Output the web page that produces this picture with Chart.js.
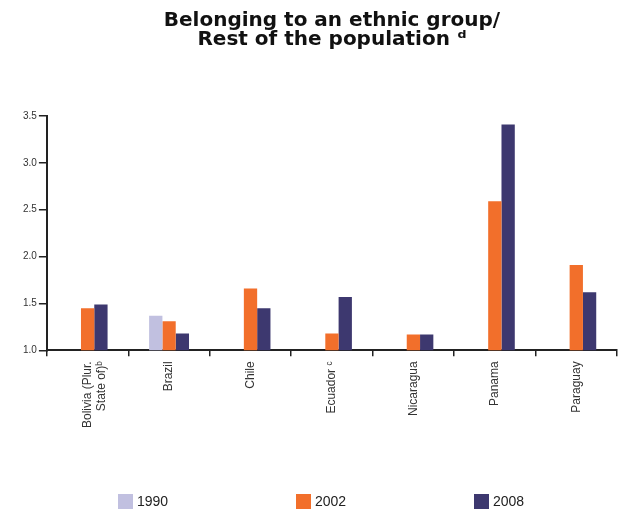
<!DOCTYPE html>
<html>
<head>
<meta charset="utf-8">
<script src="https://cdn.jsdelivr.net/npm/chart.js@4"></script>
<style>
  html, body { margin: 0; padding: 0; background: #fff; }
  #wrap { width: 632px; height: 515px; }
</style>
</head>
<body>
<div id="wrap"><canvas id="ethnicChart"></canvas></div>
<script>
const countries = [["Bolivia (Plur.", "State of)ᵇ"], "Brazil", "Chile", "Ecuador ᶜ", "Nicaragua", "Panama", "Paraguay"];
const years = ["1990", "2002", "2008"];
const values1990 = [null, 1.37, null, null, null, null, null];
const values2002 = [1.45, 1.31, 1.66, 1.18, 1.17, 2.59, 1.91];
const values2008 = [1.49, 1.18, 1.45, 1.57, 1.17, 3.41, 1.62];
const yTicks = [1.0, 1.5, 2.0, 2.5, 3.0, 3.5];

const colors = ["#c1c0e0", "#f26f2b", "#3d386f"];
const axisColor = "#222";

// legend spread across the bottom, one item per year
const bottomLegend = {
  id: "bottomLegend",
  afterDraw(chart) {
    const ctx = chart.ctx;
    const gap = 178;
    const startX = chart.width / 2 - 198;
    const y = 494;
    ctx.save();
    ctx.font = "14px 'Liberation Sans', Arial, sans-serif";
    ctx.textBaseline = "middle";
    chart.data.datasets.forEach((ds, i) => {
      const x = startX + i * gap;
      ctx.fillStyle = ds.backgroundColor;
      ctx.fillRect(x, y, 15, 15);
      ctx.fillStyle = "#222";
      ctx.fillText(ds.label, x + 19, y + 8);
    });
    ctx.restore();
  }
};

new Chart(document.getElementById("ethnicChart").getContext("2d"), {
  type: "bar",
  data: {
    labels: countries,
    datasets: [
      { label: years[0], data: values1990, backgroundColor: colors[0] },
      { label: years[1], data: values2002, backgroundColor: colors[1] },
      { label: years[2], data: values2008, backgroundColor: colors[2] }
    ]
  },
  options: {
    responsive: true,
    maintainAspectRatio: false,
    animation: false,
    datasets: { bar: { categoryPercentage: 0.49, barPercentage: 1.0 } },
    layout: { padding: { left: 21, right: 15, top: 0, bottom: 82 } },
    plugins: {
      legend: { display: false },
      tooltip: { enabled: false },
      title: {
        display: true,
        fullSize: false,
        text: ["Belonging to an ethnic group/", "Rest of the population ᵈ"],
        color: "#111",
        font: { family: "'DejaVu Sans', sans-serif", size: 20, weight: "bold", lineHeight: 0.95 },
        padding: { top: 11, bottom: 67 }
      }
    },
    scales: {
      y: {
        min: 1.0,
        max: 3.5,
        afterBuildTicks: axis => { axis.ticks = yTicks.map(v => ({ value: v })); },
        ticks: {
          color: "#333",
          font: { family: "'Liberation Sans', Arial, sans-serif", size: 10 },
          padding: 2,
          callback: v => Number(v).toFixed(1)
        },
        grid: { drawOnChartArea: false, tickLength: 8, tickColor: axisColor, lineWidth: 1.5 },
        border: { color: axisColor, width: 2 }
      },
      x: {
        ticks: {
          color: "#333",
          font: { family: "'Liberation Sans', Arial, sans-serif", size: 12 },
          maxRotation: 90,
          minRotation: 90,
          padding: 5
        },
        grid: { offset: true, drawOnChartArea: false, tickLength: 6, tickColor: axisColor, lineWidth: 1.5 },
        border: { color: axisColor, width: 2 }
      }
    }
  },
  plugins: [bottomLegend]
});
</script>
</body>
</html>
